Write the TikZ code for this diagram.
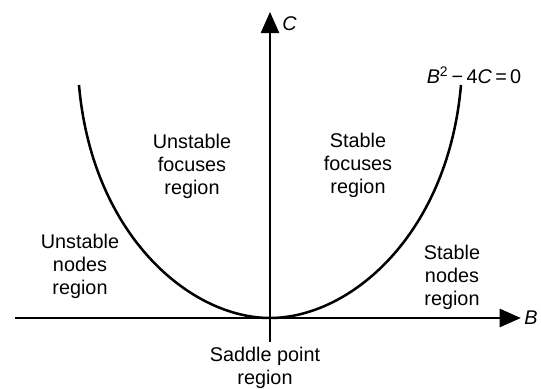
\documentclass[tikz,border=0pt]{standalone}
\usepackage{fontspec}
\setmainfont{Liberation Sans}
\usepackage{tikz}
\usetikzlibrary{arrows.meta, positioning}

\begin{document}
\begin{tikzpicture}[
  region/.style={align=center, font=\fontsize{14.1}{16.3}\selectfont},
  axis/.style={draw, line width=1.1pt, -{Triangle[length=0.53cm,width=0.46cm]}},
  curve/.style={draw, line width=1.8pt}
]
  \useasboundingbox (-6.75,-1.775) rectangle (6.775,7.95);

  \coordinate (o) at (0,0);
  \coordinate (bleft) at (-6.375,0);
  \coordinate (bright) at (6.27,0);
  \coordinate (cbot) at (0,-0.6);
  \coordinate (ctop) at (0,7.65);
  \coordinate (lend) at (-4.775,5.825);
  \coordinate (rend) at (4.775,5.825);

  \path[axis] (bleft) -- (bright);
  \path[axis] (cbot) -- (ctop);
  \node[region, anchor=west, inner sep=1pt] (blabel) at ([xshift=0.05cm]bright) {\textit{B}};
  \node[region, anchor=west, inner sep=0pt] (clabel) at ([xshift=0.3cm,yshift=-0.3cm]ctop) {\textit{C}};

  \path[curve] (lend) .. controls (-4.45,2.075) and (-2.0,0) .. (o)
               .. controls (2.0,0) and (4.45,2.075) .. (rend);

  \node[region] (eq) at (5.1,6.075) {\textit{B}\textsuperscript{2}\,−\,4\textit{C}\,=\,0};

  \node[region] (ufocus) at (-1.95,3.8) {Unstable\\focuses\\region};
  \node[region] (sfocus) at (2.2,3.825) {Stable\\focuses\\region};
  \node[region] (unodes) at (-4.75,1.3) {Unstable\\nodes\\region};
  \node[region] (snodes) at (4.55,1.025) {Stable\\nodes\\region};
  \node[region] (saddle) at (-0.125,-1.25) {Saddle point\\region};
\end{tikzpicture}
\end{document}
